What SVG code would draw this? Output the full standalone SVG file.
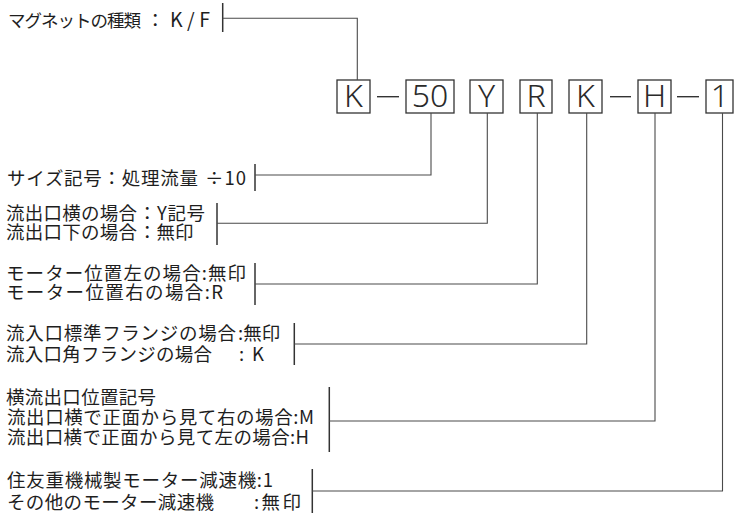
<svg xmlns="http://www.w3.org/2000/svg" width="734" height="513" viewBox="0 0 734 513">
<style>
.t{font-family:"Noto Sans CJK JP","Noto Sans",sans-serif;font-size:18.5px;fill:#1e1e1e}
.s{font-size:17.5px}
.b{fill:#fff;stroke:#333;stroke-width:1.3}
.bt{font-family:"Noto Sans","Liberation Sans",sans-serif;font-size:32px;font-weight:300;fill:#2a2a2a;text-anchor:middle}
.c{fill:none;stroke:#4a4a4a;stroke-width:1.1}
.k{fill:none;stroke:#333;stroke-width:1.5}
.d{stroke:#333;stroke-width:1.4}
</style>
<rect width="734" height="513" fill="#fff"/>
<g id="code">
  <g id="box-K1"><rect class="b" x="337" y="80" width="33" height="33"/><text class="bt" x="353.5" y="107">K</text></g>
  <line class="d" x1="377" y1="96.7" x2="399" y2="96.7"/>
  <g id="box-50"><rect class="b" x="406" y="80" width="48" height="33"/><text class="bt" x="430" y="107">50</text></g>
  <g id="box-Y"><rect class="b" x="470" y="80" width="33" height="33"/><text class="bt" x="486.5" y="107">Y</text></g>
  <g id="box-R"><rect class="b" x="520" y="80" width="32" height="33"/><text class="bt" x="536" y="107">R</text></g>
  <g id="box-K2"><rect class="b" x="569" y="80" width="33" height="33"/><text class="bt" x="585.5" y="107">K</text></g>
  <line class="d" x1="610" y1="96.7" x2="631" y2="96.7"/>
  <g id="box-H"><rect class="b" x="638" y="80" width="33" height="33"/><text class="bt" x="654.5" y="107">H</text></g>
  <line class="d" x1="677" y1="96.7" x2="699" y2="96.7"/>
  <g id="box-1"><rect class="b" x="706" y="80" width="27" height="33"/><text class="bt" x="720" y="107">1</text></g>
</g>
<g id="labels">
  <g id="lab-magnet"><text class="t" y="27"><tspan class="s" x="8" textLength="133">マグネットの種類</tspan><tspan x="146">：</tspan><tspan x="170" textLength="40" style="font-size:19.5px">K/F</tspan></text></g>
  <g id="lab-size"><text class="t" y="185"><tspan x="7" textLength="191">サイズ記号：処理流量</tspan><tspan x="205" textLength="41">÷10</tspan></text></g>
  <g id="lab-outlet"><text class="t" y="220"><tspan x="6" textLength="131">流出口横の場合</tspan><tspan x="138" textLength="67">：Y記号</tspan></text>
    <text class="t" y="239"><tspan x="6" textLength="131">流出口下の場合</tspan><tspan x="138">：無印</tspan></text></g>
  <g id="lab-motor"><text class="t" x="6" y="280" textLength="240">モーター位置左の場合:無印</text>
    <text class="t" x="6" y="299" textLength="217">モーター位置右の場合:R</text></g>
  <g id="lab-flange"><text class="t" y="340"><tspan x="6" textLength="230">流入口標準フランジの場合</tspan><tspan x="238">:無印</tspan></text>
    <text class="t" y="361"><tspan x="6" textLength="206">流入口角フランジの場合</tspan><tspan x="239" textLength="25">:K</tspan></text></g>
  <g id="lab-side"><text class="t" x="6" y="404" textLength="150">横流出口位置記号</text>
    <text class="t" x="7" y="424" textLength="307">流出口横で正面から見て右の場合:M</text>
    <text class="t" x="7" y="444" textLength="302">流出口横で正面から見て左の場合:H</text></g>
  <g id="lab-reducer"><text class="t" x="7" y="487" textLength="266">住友重機械製モーター減速機:1</text>
    <text class="t" y="509"><tspan x="7" textLength="207">その他のモーター減速機</tspan><tspan x="254" textLength="47">:無印</tspan></text></g>
</g>
<g id="connectors">
  <line class="k" x1="222.7" y1="3" x2="222.7" y2="32"/>
  <path class="c" d="M222.7 18.3H357.3V80"/>
  <line class="k" x1="255" y1="164" x2="255" y2="191"/>
  <path class="c" d="M255 175H431V113"/>
  <line class="k" x1="217" y1="203" x2="217" y2="245"/>
  <path class="c" d="M217 223.3H487.3V113"/>
  <line class="k" x1="255" y1="263" x2="255" y2="305"/>
  <path class="c" d="M255 284H537.3V113"/>
  <line class="k" x1="294.3" y1="323" x2="294.3" y2="365"/>
  <path class="c" d="M294.3 344H586.7V113"/>
  <line class="k" x1="329.3" y1="387" x2="329.3" y2="452"/>
  <path class="c" d="M329.3 421H655V113"/>
  <line class="k" x1="312.3" y1="469" x2="312.3" y2="513"/>
  <path class="c" d="M312.3 491H722.5V113"/>
</g>
</svg>
